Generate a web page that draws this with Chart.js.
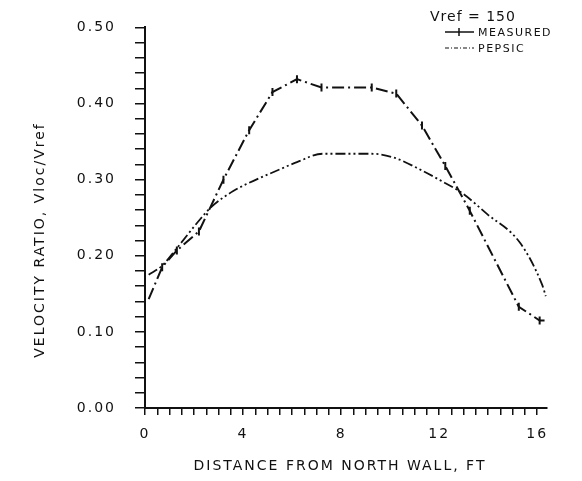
<!DOCTYPE html>
<html>
<head>
<meta charset="utf-8">
<script src="https://cdn.jsdelivr.net/npm/chart.js@4.4.1/dist/chart.umd.min.js"></script>
<style>
    html, body { margin: 0; padding: 0; background: #fff; }
</style>
</head>
<body>
<canvas id="myChart" width="582" height="481"></canvas>
<script>
// data
var measuredX = [0.15, 0.7, 1.3, 2.2, 3.2, 4.25, 5.2, 6.2, 7.2, 9.25, 10.25, 11.3, 12.25, 13.25, 15.25, 16.1, 16.3];
var measuredY = [0.143, 0.185, 0.207, 0.232, 0.300, 0.365, 0.415, 0.432, 0.421, 0.421, 0.413, 0.371, 0.318, 0.259, 0.133, 0.115, 0.115];
var pepsicX = [0.15, 0.7, 1.3, 2.25, 2.7, 3.6, 4.6, 5.25, 6.2, 7.25, 9.25, 10.15, 11.3, 12.05, 12.95, 13.95, 15.3, 16.2, 16.35];
var pepsicY = [0.175, 0.187, 0.210, 0.248, 0.264, 0.285, 0.301, 0.310, 0.323, 0.334, 0.334, 0.329, 0.312, 0.299, 0.282, 0.255, 0.217, 0.162, 0.147];
var seriesNames = ['MEASURED', 'PEPSIC'];
var xLabels = [0, 4, 8, 12, 16];
var yLabels = [0, 0.1, 0.2, 0.3, 0.4, 0.5];
var refText = 'Vref = 150';
var xTitle = 'DISTANCE FROM NORTH WALL, FT';
var yTitle = 'VELOCITY RATIO, Vloc/Vref';

var FONT = '"DejaVu Sans", sans-serif';

function toPoints(xs, ys) {
    var pts = [];
    for (var i = 0; i < xs.length; i++) {
        pts.push({x: xs[i], y: ys[i]});
    }
    return pts;
}

var measuredDash = [12, 4, 2, 4];
var pepsicDash = [10, 3, 2, 3, 2, 3];

// spacing for the wide typewriter-ish lettering
var spacingPlugin = {
    id: 'spacing',
    beforeUpdate: function (chart) { chart.ctx.letterSpacing = '2px'; },
    beforeDraw: function (chart) { chart.ctx.letterSpacing = '2px'; }
};

var textPlugin = {
    id: 'texts',
    afterDraw: function (chart) {
        var ctx = chart.ctx;
        ctx.save();
        ctx.fillStyle = '#111';
        ctx.letterSpacing = '2px';
        ctx.font = '14px ' + FONT;
        ctx.textAlign = 'center';
        ctx.textBaseline = 'middle';
        // x title
        ctx.fillText(xTitle, 340, 466);
        // y title
        ctx.save();
        ctx.translate(40, 240);
        ctx.rotate(-Math.PI / 2);
        ctx.fillText(yTitle, 0, 0);
        ctx.restore();

        // key
        ctx.textAlign = 'left';
        ctx.letterSpacing = '1px';
        ctx.font = '14px ' + FONT;
        ctx.fillText(refText, 430, 17);
        ctx.font = '11px ' + FONT;
        ctx.letterSpacing = '1.5px';
        var rows = [
            {name: seriesNames[0], y: 32, dash: [], w: 1.5, mark: true},
            {name: seriesNames[1], y: 48, dash: [4, 2, 1, 2], w: 1.2, mark: false}
        ];
        rows.forEach(function (r) {
            ctx.strokeStyle = '#111';
            ctx.lineWidth = r.w;
            ctx.setLineDash(r.dash);
            ctx.beginPath();
            ctx.moveTo(445, r.y);
            ctx.lineTo(474, r.y);
            ctx.stroke();
            ctx.setLineDash([]);
            if (r.mark) {
                ctx.lineWidth = 1.5;
                ctx.beginPath();
                ctx.moveTo(459, r.y - 4);
                ctx.lineTo(459, r.y + 4);
                ctx.stroke();
            }
            ctx.fillText(r.name, 478, r.y + 1);
        });
        ctx.restore();
    }
};

var ctx = document.getElementById('myChart');
var myChart = new Chart(ctx, {
    type: 'line',
    data: {
        datasets: [{
                label: seriesNames[0],
                data: toPoints(measuredX, measuredY),
                borderColor: '#111',
                borderWidth: 2,
                borderDash: measuredDash,
                tension: 0,
                pointStyle: 'line',
                rotation: 90,
                pointRadius: measuredX.map(function (v, i) { return (i === 0 || i === measuredX.length - 1) ? 0 : 4; }),
                pointBorderWidth: 2,
                pointBorderColor: '#111',
                fill: false
            }, {
                label: seriesNames[1],
                data: toPoints(pepsicX, pepsicY),
                borderColor: '#111',
                borderWidth: 1.8,
                borderDash: pepsicDash,
                cubicInterpolationMode: 'monotone',
                pointRadius: 0,
                fill: false
            }]
    },
    options: {
        responsive: false,
        animation: false,
        devicePixelRatio: 1,
        layout: {padding: {top: 14, right: 35, left: 0, bottom: 0}},
        plugins: {
            legend: {display: false},
            tooltip: {enabled: false}
        },
        scales: {
            x: {
                type: 'linear',
                min: 0,
                max: 16.4,
                afterBuildTicks: function (scale) {
                    var t = [];
                    for (var i = 0; i <= 32; i++) t.push({value: i / 2});
                    scale.ticks = t;
                },
                afterFit: function (scale) { scale.height = 73; },
                ticks: {
                    autoSkip: false,
                    maxRotation: 0,
                    padding: 11,
                    color: '#111',
                    font: {family: FONT, size: 14},
                    callback: function (v) { return xLabels.indexOf(v) >= 0 ? String(v) : ''; }
                },
                grid: {drawOnChartArea: false, drawTicks: true, tickLength: 7, color: '#111', lineWidth: 1.5},
                border: {color: '#111', width: 2}
            },
            y: {
                type: 'linear',
                min: 0,
                max: 0.5,
                afterBuildTicks: function (scale) {
                    var t = [];
                    for (var i = 0; i <= 25; i++) t.push({value: Math.round(i * 2) / 100});
                    scale.ticks = t;
                },
                afterFit: function (scale) { scale.width = 145; },
                ticks: {
                    autoSkip: false,
                    padding: 19,
                    color: '#111',
                    font: {family: FONT, size: 14},
                    callback: function (v) {
                        for (var i = 0; i < yLabels.length; i++) {
                            if (Math.abs(yLabels[i] - v) < 1e-6) return v.toFixed(2);
                        }
                        return '';
                    }
                },
                grid: {drawOnChartArea: false, drawTicks: true, tickLength: 10, color: '#111', lineWidth: 1.5},
                border: {color: '#111', width: 2}
            }
        }
    },
    plugins: [spacingPlugin, textPlugin]
});
</script>
</body>
</html>
